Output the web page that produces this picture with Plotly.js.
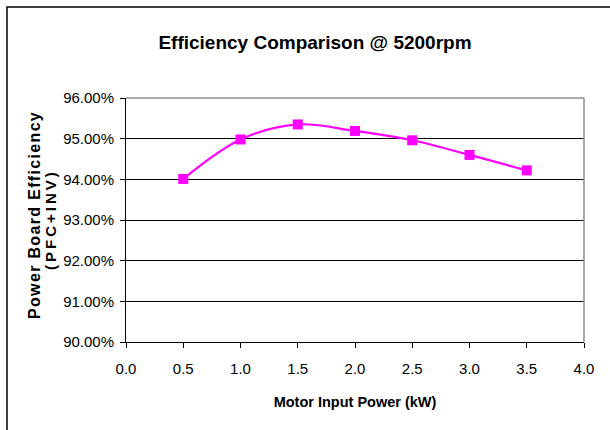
<!DOCTYPE html>
<html>
<head>
<meta charset="utf-8">
<script src="https://cdn.plot.ly/plotly-3.0.1.min.js"></script>
<style>
  html, body { margin: 0; padding: 0; background: #fff; overflow: hidden; }
  #chart { width: 610px; height: 430px; }
</style>
</head>
<body>
<div id="chart"></div>
<script>
// Data
const motorPowerKW = [0.5, 1.0, 1.5, 2.0, 2.5, 3.0, 3.5];
const efficiencyPct = [94.01, 94.98, 95.35, 95.19, 94.96, 94.60, 94.22];

const chartTitle = 'Efficiency Comparison @ 5200rpm';
const xTitle = 'Motor Input Power (kW)';
const yTitleLine1 = 'Power Board Efficiency';
const yTitleLine2 = '(PFC+INV)';

const font = '"Liberation Sans", Arial, sans-serif';

function spaced(s, sep) { return s.split('').join(sep); }

const L = 126, R = 26, T = 98, B = 88;
const W = 610, H = 430;
const pw = W - L - R, ph = H - T - B;
function px(xPix) { return (xPix - L) / pw; }
function py(yPix) { return (H - B - yPix) / ph; }

const traces = [
  {
    x: motorPowerKW,
    y: efficiencyPct,
    type: 'scatter',
    mode: 'lines+markers',
    line: { color: '#FF00FF', width: 2.2, shape: 'spline', smoothing: 1 },
    marker: { symbol: 'square', size: 10, color: '#FF00FF' },
    cliponaxis: false,
    showlegend: false,
    hoverinfo: 'x+y'
  },
  {
    x: [], y: [], xaxis: 'x', yaxis: 'y2', type: 'scatter', mode: 'none', showlegend: false
  }
];

const layout = {
  width: W, height: H,
  margin: { l: L, r: R, t: T, b: B, pad: 0 },
  paper_bgcolor: '#fff',
  plot_bgcolor: '#fff',
  showlegend: false,
  title: {
    text: '<b>' + chartTitle + '</b>',
    font: { family: font, size: 19, color: '#000' },
    x: 315 / W, xanchor: 'center',
    y: 1 - 42 / H, yanchor: 'middle', yref: 'container'
  },
  xaxis: {
    range: [0, 4], dtick: 0.5, tick0: 0, tickformat: '.1f',
    showgrid: false, zeroline: false,
    showline: true, linecolor: '#000', linewidth: 1,
    ticks: 'outside', ticklen: 5, tickcolor: '#000', tickwidth: 1,
    tickfont: { family: font, size: 15, color: '#000' },
    ticklabelstandoff: 8,
    title: { text: '<b>' + xTitle + '</b>', font: { family: font, size: 14.5, color: '#000' }, standoff: 20 },
    fixedrange: true
  },
  yaxis: {
    range: [90, 96], dtick: 1, tick0: 90, tickformat: '.2f', ticksuffix: '%',
    showgrid: true, gridcolor: '#000', gridwidth: 1,
    zeroline: false,
    showline: true, linecolor: '#000', linewidth: 1,
    ticks: 'outside', ticklen: 5, tickcolor: '#000', tickwidth: 1,
    tickfont: { family: font, size: 15, color: '#000' },
    ticklabelstandoff: 3,
    fixedrange: true
  },
  yaxis2: {
    overlaying: 'y', anchor: 'x', side: 'left',
    range: [90, 96], dtick: 1, tick0: 90,
    showgrid: false, zeroline: false, showline: false,
    ticks: 'inside', ticklen: 5, tickcolor: '#000', tickwidth: 1,
    showticklabels: false, fixedrange: true
  },
  annotations: [
    { text: '<b>' + spaced(yTitleLine1, '\u200A') + '</b>', textangle: -90,
      xref: 'paper', yref: 'paper', x: px(34), y: py(216), xanchor: 'center', yanchor: 'middle',
      showarrow: false, font: { family: font, size: 16, color: '#000' } },
    { text: '<b>' + spaced(yTitleLine2, '\u2009') + '</b>', textangle: -90,
      xref: 'paper', yref: 'paper', x: px(50), y: py(221), xanchor: 'center', yanchor: 'middle',
      showarrow: false, font: { family: font, size: 15, color: '#000' } }
  ],
  shapes: [
    { type: 'line', xref: 'paper', yref: 'paper', x0: 0, x1: 1, y0: 1, y1: 1,
      line: { color: '#8c8c8c', width: 1.5 }, layer: 'above' },
    { type: 'line', xref: 'paper', yref: 'paper', x0: 1, x1: 1, y0: 0, y1: 1,
      line: { color: '#8c8c8c', width: 1.5 }, layer: 'above' },
    { type: 'rect', xref: 'paper', yref: 'paper',
      x0: px(7), x1: px(640), y0: py(460), y1: py(7),
      line: { color: '#000', width: 1.5 }, fillcolor: 'rgba(0,0,0,0)', layer: 'above' }
  ]
};

Plotly.newPlot('chart', traces, layout, { displayModeBar: false, staticPlot: true });
</script>
</body>
</html>
